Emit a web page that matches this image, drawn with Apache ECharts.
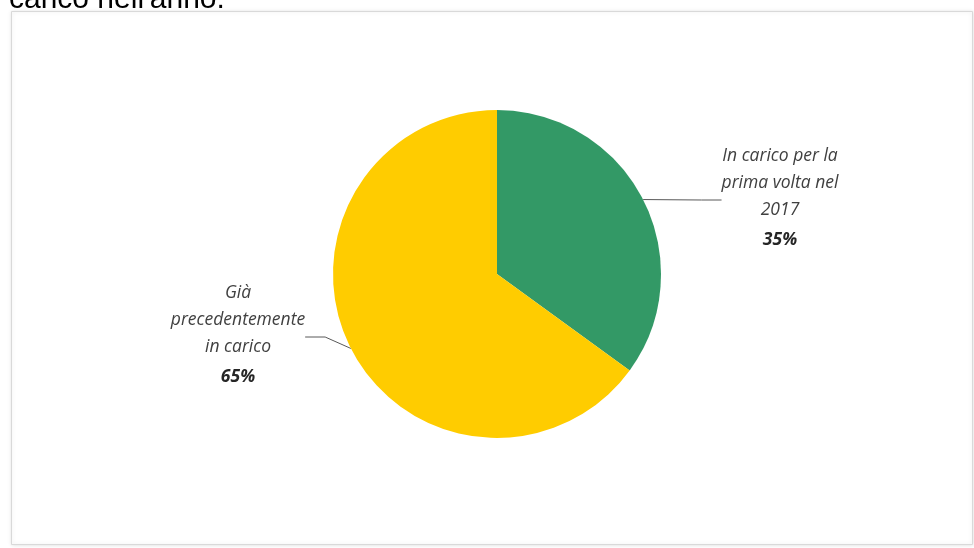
<!DOCTYPE html>
<html><head><meta charset="utf-8">
<script src="https://cdn.jsdelivr.net/npm/echarts@6/dist/echarts.min.js"></script>
<style>html,body{margin:0;padding:0;background:#fff}#c{width:974px;height:548px}</style>
</head><body><div id="c"></div>
<script>
const categories = ['In carico per la\nprima volta nel\n2017', 'Già\nprecedentemente\nin carico'];
const values = [35, 65];
const colors = ['#339966', '#FFCC00'];
const labelPos = [[780, 200], [238, 337]];

const chart = echarts.init(document.getElementById('c'));
chart.setOption({
  animation: false,
  graphic: [
    { type: 'rect', shape: { x: 11.5, y: 11.5, width: 961, height: 533 }, style: { fill: '#fff', stroke: '#d9d9d9', lineWidth: 1, shadowBlur: 4, shadowColor: 'rgba(0,0,0,0.12)' }, z: -10 },
    { type: 'text', left: 9, top: -15, style: { text: "carico nell'anno.", font: '30px "Liberation Sans", Arial', fill: '#000' } }
  ],
  series: [{
    type: 'pie',
    center: [497, 274],
    radius: 164,
    startAngle: 90,
    clockwise: true,
    data: categories.map((n, i) => ({ name: n, value: values[i], itemStyle: { color: colors[i] } })),
    label: {
      show: true,
      formatter: p => p.name + '\n{b|' + p.value + '%}',
      fontFamily: 'Open Sans',
      fontStyle: 'italic',
      fontSize: 17.5,
      color: '#404040',
      lineHeight: 27,
      align: 'center',
      rich: { b: { fontFamily: 'Open Sans', fontStyle: 'italic', fontWeight: 'bold', fontSize: 17.5, color: '#262626', lineHeight: 33 } }
    },
    labelLine: { show: true, lineStyle: { color: '#595959', width: 1 }, length: 20, length2: 20 },
    labelLayout: p => ({ x: labelPos[p.dataIndex][0], y: labelPos[p.dataIndex][1], align: 'center', verticalAlign: 'middle' }),
    emphasis: { disabled: true }
  }]
});
</script></body></html>
